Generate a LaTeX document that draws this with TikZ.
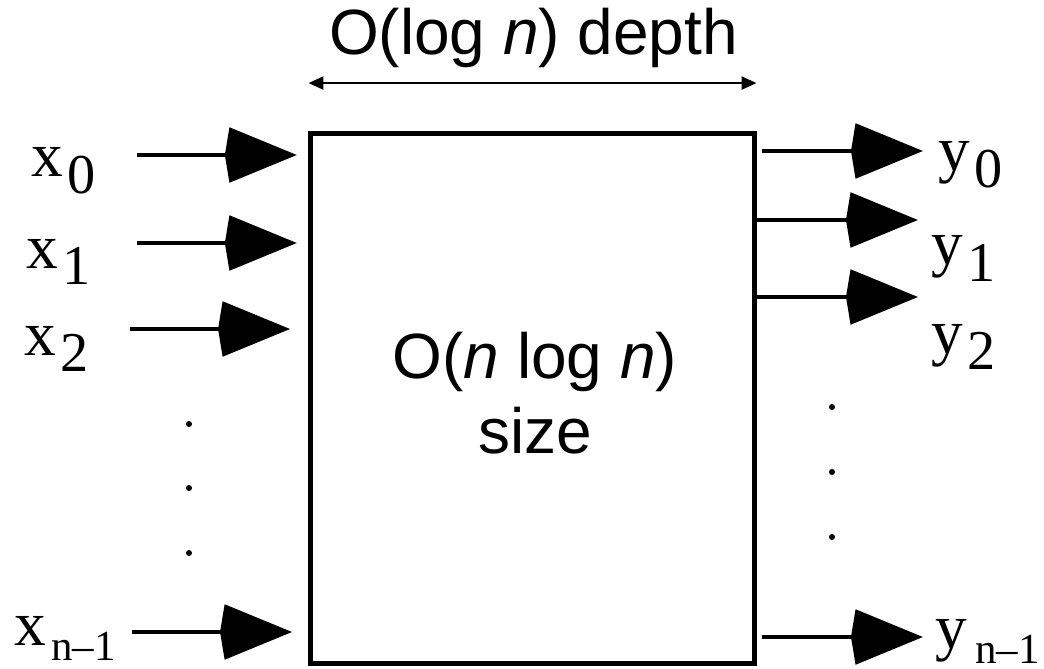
\documentclass[tikz,border=0pt]{standalone}
\usepackage{fontspec}
\setmainfont{Liberation Serif}
\newfontfamily\arial{Liberation Sans}
\usetikzlibrary{arrows.meta,positioning}

% signal name with its index set low beside it
\newcommand\io[3][2pt]{#2\kern#1\lower12pt\hbox{\fontsize{40}{40}\selectfont #3}}
\newcommand\iolast[2][3pt]{#2\kern#1\lower11pt\hbox{\fontsize{30.5}{30.5}\selectfont n–1}}

\tikzset{
	sig/.style={line width=3.2pt, -{Stealth[length=1.675cm, width=1.35cm, inset=-0.125cm]}},
	lbl/.style={font=\fontsize{45}{45}\selectfont, anchor=base west, inner sep=0pt},
	sans/.style={font=\arial\fontsize{45.5}{45.5}\selectfont, anchor=base, inner sep=0pt},
}

\begin{document}
\begin{tikzpicture}[x=0.025cm, y=-0.025cm]
		\useasboundingbox (0,0) rectangle (1044,669);
		\node(net)[draw, line width=3.5pt, minimum width=11.075cm, minimum height=13.225cm] at (532.5,398.5){};
		\node(cost)[sans] at (535,378){O(\textit{n} log \textit{n})};
		\node(sz)[sans] at (535,453){size};

		\node(dep)[sans] at (533.5,55){O(log \textit{n}) depth};
		\draw[line width=1.6pt, {Triangle[length=0.375cm, width=0.325cm]}-{Triangle[length=0.375cm, width=0.325cm]}] ([yshift=1.21cm]net.north west) -- ([yshift=1.21cm]net.north east);

		\node(x0)[lbl] at (31,177){\io[3pt]{x}{0}};
		\node(x1)[lbl] at (26,268){\io[3pt]{x}{1}};
		\node(x2)[lbl] at (24,355){\io[3pt]{x}{2}};
		\node(xn)[lbl] at (14,645){\iolast[4pt]{x}};

		\node(y0)[lbl] at (938,171){\io[3pt]{y}{0}};
		\node(y1)[lbl] at (931,265){\io[3pt]{y}{1}};
		\node(y2)[lbl] at (931,353){\io[3pt]{y}{2}};
		\node(yn)[lbl] at (935,648){\iolast[6pt]{y}};

		\coordinate(s0) at (137,155);
		\coordinate(s1) at (137,243);
		\coordinate(s2) at (130,329);
		\coordinate(sn) at (132,632);
		\draw[sig, shorten >=0.29cm] (s0) -- (s0 -| net.west);
		\draw[sig, shorten >=0.29cm] (s1) -- (s1 -| net.west);
		\draw[sig, shorten >=0.46cm] (s2) -- (s2 -| net.west);
		\draw[sig, shorten >=0.41cm] (sn) -- (sn -| net.west);

		\coordinate(t0) at (923,151);
		\coordinate(t1) at (918,220);
		\coordinate(t2) at (918,297);
		\coordinate(tn) at (923,637);
		\draw[sig] ([xshift=0.14cm]net.east |- t0) -- (t0);
		\draw[sig] (net.east |- t1) -- (t1);
		\draw[sig] (net.east |- t2) -- (t2);
		\draw[sig] ([xshift=0.14cm]net.east |- tn) -- (tn);

		\foreach \y in {424,488,553} \fill (189,\y) circle (3);
		\foreach \y in {407,472,537} \fill (832,\y) circle (3);
	\end{tikzpicture}
\end{document}
